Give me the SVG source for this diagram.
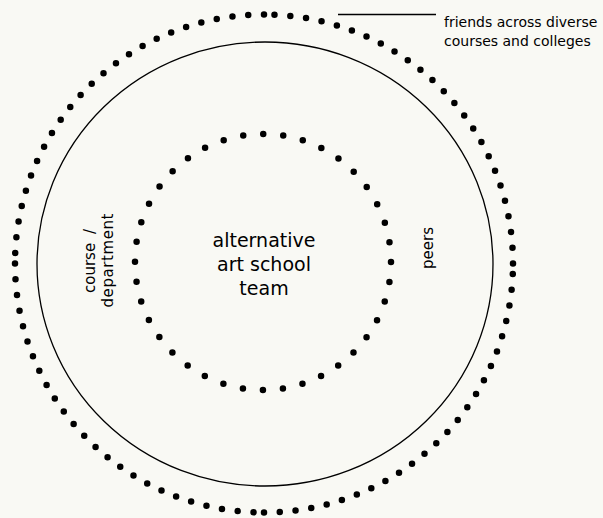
<svg xmlns="http://www.w3.org/2000/svg" width="603" height="518" viewBox="0 0 603 518">
<style>
.dots{fill:none;stroke:#000;stroke-linecap:round}
.outer{stroke-width:6.5;stroke-dasharray:0 15.85}
.inner{stroke-width:6.5;stroke-dasharray:0 20.106}
.line{fill:none;stroke:#000;stroke-width:1.3}
text{font-family:"DejaVu Sans","Open Sans",sans-serif;fill:#000}
.lbl{font-size:15px}
.ctr{font-size:19px}
.note{font-size:14px}
</style>
<rect width="603" height="518" fill="#f9f9f4"/>
<g id="outer-circle">
<path class="dots outer" d="M513 263.5 A249 249 0 0 0 264 14.5"/>
<path class="dots outer" d="M264 14.5 A249 249 0 0 0 15 263.5"/>
<path class="dots outer" d="M15 263.5 A249 249 0 0 0 264 512.5"/>
<path class="dots outer" d="M264 512.5 A249 249 0 0 0 513 263.5"/>
</g>
<g id="middle-circle">
<ellipse class="line" cx="265" cy="264" rx="228" ry="222"/>
</g>
<g id="inner-circle">
<circle class="dots inner" cx="263" cy="262" r="128"/>
</g>
<g id="connectors">
<line class="line" x1="338" y1="14.5" x2="436" y2="14.5"/>
</g>
<g id="label-friends">
<text class="note" x="444" y="27">friends across diverse</text>
<text class="note" x="444" y="46">courses and colleges</text>
</g>
<g id="label-center">
<text class="ctr" x="264" y="247" text-anchor="middle">alternative</text>
<text class="ctr" x="264" y="271" text-anchor="middle">art school</text>
<text class="ctr" x="264" y="295" text-anchor="middle">team</text>
</g>
<g id="label-course">
<text class="lbl" transform="translate(95,293) rotate(-90)">course <tspan dx="4">/</tspan></text>
<text class="lbl" transform="translate(113,260.5) rotate(-90)" text-anchor="middle" textLength="94" lengthAdjust="spacing">department</text>
</g>
<g id="label-peers">
<text class="lbl" transform="translate(433,248) rotate(-90)" text-anchor="middle">peers</text>
</g>
</svg>
